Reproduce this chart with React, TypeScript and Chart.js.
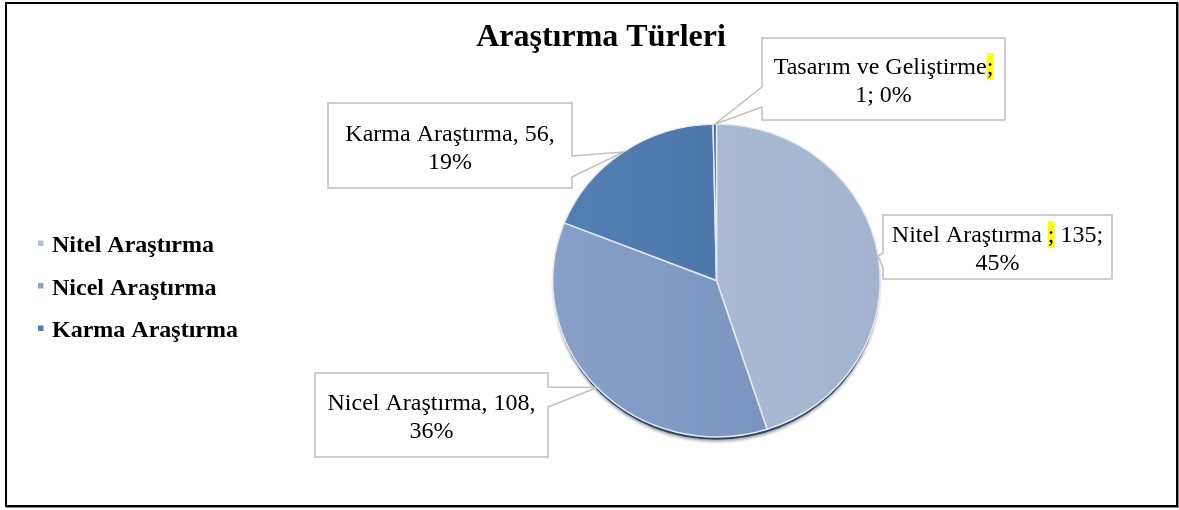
import React, { useEffect, useRef } from "react";
import { Chart, registerables } from "chart.js";

Chart.register(...registerables);

// ---- data ----
const categories = ["Nitel Araştırma", "Nicel Araştırma", "Karma Araştırma", "Tasarım ve Geliştirme"];
const counts = [135, 108, 56, 1];
const sliceLight = ["#B3C1D8", "#889FC8", "#547FB4", "#46709F"];
const sliceDark = ["#A3B3CD", "#758FBB", "#46709F", "#3A6094"];
const legendItems = ["Nitel Araştırma", "Nicel Araştırma", "Karma Araştırma"];
// "|" = line break, text between ^ ^ is highlighted
const labelTemplates = [
  "{name} ^;^ {value};|{pct}%",
  "{name}, {value},|{pct}%",
  "{name}, {value},|{pct}%",
  "{name}^;^|{value}; {pct}%",
];
const titleText = "Araştırma Türleri";

// ---- layout (positions / styles) ----
const calloutLayout = [
  { left: 883, top: 215, right: 1112, bottom: 279, side: "left", n1: 253, n2: 268 },
  { left: 315, top: 373, right: 548, bottom: 457, side: "right", n1: 387, n2: 407 },
  { left: 328, top: 103, right: 572, bottom: 188, side: "right", n1: 156, n2: 177 },
  { left: 762, top: 38, right: 1005, bottom: 120, side: "left", n1: 87, n2: 107 },
];
const SERIF = "'Times New Roman', 'Liberation Serif', serif";
const W = 1179;
const H = 510;
const TILT = 0.955; // vertical squash of the pie (slight 3-D look)

export default function App() {
  const ref = useRef<HTMLCanvasElement>(null);

  useEffect(() => {
    const canvas = ref.current;
    if (!canvas) return;
    const total = counts.reduce((a, b) => a + b, 0);

    const tiltPlugin = {
      id: "pieTilt",
      beforeDatasetsDraw(chart: any) {
        const arc = chart.getDatasetMeta(0).data[0];
        if (!arc) return;
        const { x, y, outerRadius } = arc.getProps(["x", "y", "outerRadius"], true);
        const ctx = chart.ctx;
        ctx.save();
        ctx.translate(x, y);
        ctx.scale(1, TILT);
        ctx.translate(-x, -y);
        // shadow under the pie
        ctx.save();
        ctx.fillStyle = "#2E4668";
        ctx.shadowColor = "rgba(0,0,0,0.35)";
        ctx.shadowBlur = 3;
        ctx.shadowOffsetY = 2;
        ctx.beginPath();
        ctx.arc(x, y + 3.5, outerRadius - 0.5, 0, Math.PI * 2);
        ctx.fill();
        ctx.restore();
      },
      afterDatasetsDraw(chart: any) {
        chart.ctx.restore();
      },
    };

    const overlayPlugin = {
      id: "overlay",
      afterDraw(chart: any) {
        const ctx: CanvasRenderingContext2D = chart.ctx;
        ctx.save();

        // title
        ctx.fillStyle = "#000";
        ctx.font = `bold 32px ${SERIF}`;
        ctx.textAlign = "center";
        ctx.textBaseline = "alphabetic";
        ctx.fillText(titleText, 601, 46);

        // legend
        ctx.textAlign = "left";
        ctx.font = `bold 24px ${SERIF}`;
        legendItems.forEach((name, i) => {
          const idx = categories.indexOf(name);
          const y = 243 + i * 42.5;
          ctx.fillStyle = sliceLight[idx];
          ctx.fillRect(38, y - 2.5, 5.5, 5.5);
          ctx.fillStyle = "#000";
          ctx.fillText(name, 52, y + 9);
        });

        // callouts
        const meta = chart.getDatasetMeta(0);
        meta.data.forEach((arc: any, i: number) => {
          const L = calloutLayout[i];
          if (!L) return;
          const p = arc.getProps(["x", "y", "startAngle", "endAngle", "outerRadius"], true);
          const mid = (p.startAngle + p.endAngle) / 2;
          const tx = p.x + Math.cos(mid) * p.outerRadius;
          const ty = p.y + Math.sin(mid) * p.outerRadius * TILT;

          ctx.beginPath();
          if (L.side === "right") {
            ctx.moveTo(L.left, L.top);
            ctx.lineTo(L.right, L.top);
            ctx.lineTo(L.right, L.n1);
            ctx.lineTo(tx, ty);
            ctx.lineTo(L.right, L.n2);
            ctx.lineTo(L.right, L.bottom);
            ctx.lineTo(L.left, L.bottom);
          } else {
            ctx.moveTo(L.left, L.top);
            ctx.lineTo(L.right, L.top);
            ctx.lineTo(L.right, L.bottom);
            ctx.lineTo(L.left, L.bottom);
            ctx.lineTo(L.left, L.n2);
            ctx.lineTo(tx, ty);
            ctx.lineTo(L.left, L.n1);
          }
          ctx.closePath();
          ctx.fillStyle = "#FFFFFF";
          ctx.fill();
          ctx.strokeStyle = "#BFBFBF";
          ctx.lineWidth = 1.5;
          ctx.stroke();

          const pct = Math.round((counts[i] / total) * 100);
          const text = labelTemplates[i]
            .replace("{name}", categories[i])
            .replace("{value}", String(counts[i]))
            .replace("{pct}", String(pct));
          const lines = text.split("|");
          ctx.font = `24px ${SERIF}`;
          ctx.textAlign = "left";
          ctx.textBaseline = "alphabetic";
          const spacing = 28;
          const cx = (L.left + L.right) / 2;
          const cy = (L.top + L.bottom) / 2;
          lines.forEach((line, li) => {
            const base = cy - ((lines.length - 1) * spacing) / 2 + li * spacing + 9;
            const segs = line.split("^");
            const full = segs.join("");
            let x = cx - ctx.measureText(full).width / 2;
            segs.forEach((seg, si) => {
              const w = ctx.measureText(seg).width;
              if (si % 2 === 1) {
                ctx.fillStyle = "#FFFF00";
                ctx.fillRect(x, base - 21, w, 26);
              }
              ctx.fillStyle = "#000";
              ctx.fillText(seg, x, base);
              x += w;
            });
          });
        });
        ctx.restore();
      },
    };

    const grad = (c: any, i: number) => {
      const chart = c.chart;
      const area = chart.chartArea;
      if (!area) return sliceLight[i];
      const g = chart.ctx.createLinearGradient(area.left, 0, area.right, 0);
      g.addColorStop(0, sliceLight[i]);
      g.addColorStop(1, sliceDark[i]);
      return g;
    };

    const chart = new Chart(canvas, {
      type: "pie",
      data: {
        labels: categories,
        datasets: [
          {
            data: counts,
            backgroundColor: (c: any) => grad(c, c.dataIndex),
            borderColor: "#E4EAF3",
            borderWidth: 1.5,
          },
        ],
      },
      options: {
        responsive: false,
        animation: false,
        layout: { padding: { left: 552, right: W - 881, top: 116, bottom: H - 445 } },
        plugins: {
          legend: { display: false },
          title: { display: false },
          tooltip: { enabled: false },
        },
      },
      plugins: [tiltPlugin, overlayPlugin],
    } as any);

    return () => chart.destroy();
  }, []);

  return (
    <div style={{ position: "absolute", left: 0, top: 0, width: W, height: H, background: "#fff" }}>
      <div
        style={{
          position: "absolute",
          left: 5,
          top: 2,
          width: 1173,
          height: 505,
          boxSizing: "border-box",
          border: "2px solid #000",
          boxShadow: "1px 1px 0 #888",
        }}
      />
      <canvas ref={ref} width={W} height={H} style={{ position: "absolute", left: 0, top: 0 }} />
    </div>
  );
}
